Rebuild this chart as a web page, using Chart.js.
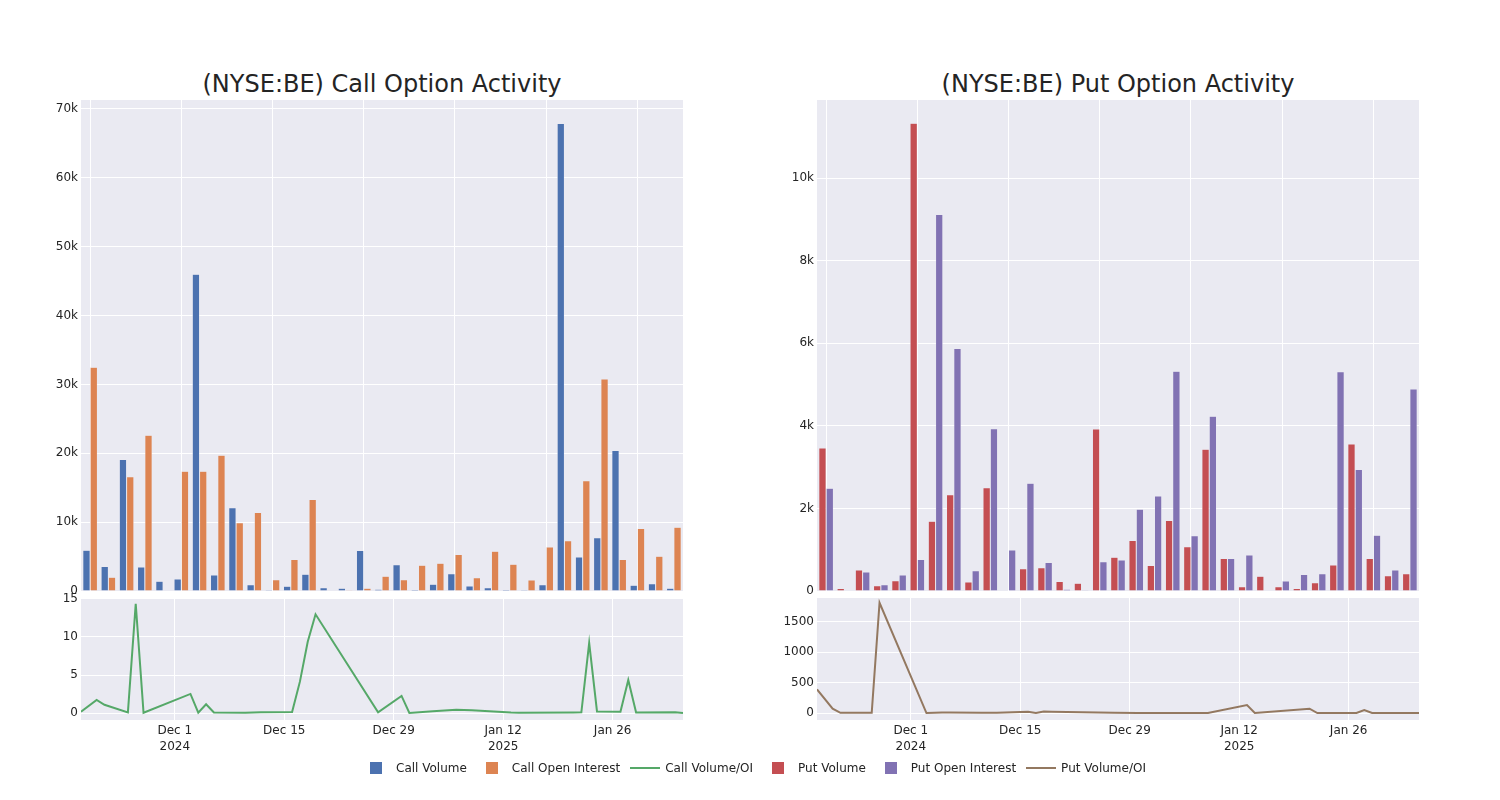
<!DOCTYPE html>
<html>
<head>
<meta charset="utf-8">
<script src="https://cdn.jsdelivr.net/npm/chart.js@4.4.1/dist/chart.umd.min.js"></script>
<style>
  body { margin: 0; background: #fff; font-family: "DejaVu Sans", sans-serif; }
  #wrap { position: relative; width: 1500px; height: 800px; overflow: hidden; }
  #wrap canvas { position: absolute; }
  .title { position: absolute; top: 68px; width: 602px; text-align: center; font-size: 24px; line-height: 32px; color: rgb(36,36,36); }
  #legend { position: absolute; left: 356px; top: 760px; height: 16px; display: flex; align-items: center; font-size: 12px; color: rgb(36,36,36); }
  .item { display: flex; align-items: center; margin-right: 5px; }
  .sym { position: relative; width: 40px; height: 16px; }
  .sq { position: absolute; left: 14px; top: 2px; width: 12px; height: 12px; }
  .ln { position: absolute; left: 5px; top: 7px; width: 30px; height: 2px; }
</style>
</head>
<body>
<div id="wrap">
  <div class="title" style="left:81px">(NYSE:BE) Call Option Activity</div>
  <div class="title" style="left:817px">(NYSE:BE) Put Option Activity</div>
  <canvas id="callBars" width="700" height="515" style="left:0;top:90px"></canvas>
  <canvas id="callRatio" width="700" height="180" style="left:0;top:588px"></canvas>
  <canvas id="putBars" width="700" height="515" style="left:736px;top:90px"></canvas>
  <canvas id="putRatio" width="700" height="180" style="left:736px;top:588px"></canvas>
  <div id="legend"></div>
</div>
<script>
// trading days shown in the charts
const dates = [
  '2024-11-19', '2024-11-21', '2024-11-22', '2024-11-25', '2024-11-26', '2024-11-27',
  '2024-12-03', '2024-12-04', '2024-12-05', '2024-12-06', '2024-12-10', '2024-12-12',
  '2024-12-16', '2024-12-17', '2024-12-18', '2024-12-19', '2024-12-27', '2024-12-30',
  '2024-12-31', '2025-01-03', '2025-01-06', '2025-01-08', '2025-01-13', '2025-01-14',
  '2025-01-21', '2025-01-22', '2025-01-23', '2025-01-24', '2025-01-27', '2025-01-28',
  '2025-01-29', '2025-02-03', '2025-02-04'
];

const callVolume = [5900, 3540, 19100, 3500, 1400, 1750, 46000, 2330, 12100, 920, 150, 680,
  2430, 490, 390, 5870, 240, 3830, 200, 970, 2520, 730, 490, 190,
  150, 920, 67900, 4950, 7720, 20400, 830, 1070, 390];
const callOpenInterest = [32500, 2000, 16600, 22600, 50, 17400, 17400, 19700, 9900, 11400, 1650, 4560,
  13300, 50, 20, 390, 2140, 1650, 3740, 4030, 5290, 1940, 5780, 3880,
  1600, 6400, 7280, 16000, 30800, 4560, 9080, 5050, 9270];
const callRatio = [0.18, 1.74, 1.09, 0.1, 14.35, 0.05, 2.52, 0.05, 1.17, 0.08, 0.06, 0.12,
  0.15, 4.13, 9.35, 12.96, 0.1, 2.26, 0.03, 0.24, 0.43, 0.37, 0.08, 0.05,
  0.09, 0.1, 9.2, 0.22, 0.17, 4.35, 0.08, 0.13, 0.02];

const putVolume = [3460, 60, 510, 130, 250, 11330, 1690, 2330, 220, 2500, 0, 540,
  560, 230, 190, 3920, 820, 1220, 620, 1710, 1070, 3430, 790, 100,
  360, 100, 60, 200, 630, 3560, 790, 370, 420];
const putOpenInterest = [2490, 0, 460, 150, 390, 760, 9120, 5870, 490, 3930, 990, 2610,
  690, 40, 20, 710, 750, 1980, 2300, 5320, 1340, 4230, 790, 870,
  0, 240, 400, 420, 5310, 2940, 1350, 510, 4890];
const putRatio = [390, 71, 3, 5, 3, 1817, 0, 3, 8, 10, 6, 5,
  20, 2, 25, 22, 5, 2, 2, 2, 2, 2, 130, 0,
  71, 0, 0, 0, 0, 50, 0, 2, 2];

// axis ticks
const callBarTicks = [0, 10000, 20000, 30000, 40000, 50000, 60000, 70000];
const putBarTicks = [0, 2000, 4000, 6000, 8000, 10000];
const callRatioTicks = [0, 5, 10, 15];
const putRatioTicks = [0, 500, 1000, 1500];
const dateTickDays = [0, 14, 28, 42, 56]; // days after Dec 1 2024
const dateTickLabels = [['Dec 1', '2024'], 'Dec 15', 'Dec 29', ['Jan 12', '2025'], 'Jan 26'];

const colors = {
  callVol: 'rgb(76,114,176)', callOI: 'rgb(221,132,82)', callRatio: 'rgb(85,168,104)',
  putVol: 'rgb(196,78,82)', putOI: 'rgb(129,114,179)', putRatio: 'rgb(147,120,96)'
};
const textColor = 'rgb(36,36,36)';
const plotColor = 'rgb(234,234,242)';

Chart.defaults.font.family = '"DejaVu Sans", sans-serif';
Chart.defaults.font.size = 12;
Chart.defaults.color = textColor;

const base = Date.UTC(2024, 11, 1);
function dayNum(s) {
  const p = s.split('-').map(Number);
  return (Date.UTC(p[0], p[1] - 1, p[2]) - base) / 86400000;
}
const days = dates.map(dayNum);

function kLabel(v) {
  return v === 0 ? '0' : (v / 1000) + 'k';
}

const plotBg = {
  id: 'plotBg',
  beforeDraw(chart) {
    const a = chart.chartArea;
    const ctx = chart.ctx;
    ctx.save();
    ctx.fillStyle = plotColor;
    ctx.fillRect(a.left, a.top, a.right - a.left, a.bottom - a.top);
    ctx.restore();
  }
};

function yAxis(min, max, ticks, cb) {
  return {
    min: min, max: max, bounds: 'data',
    afterBuildTicks: s => { s.ticks = ticks.map(v => ({ value: v })); },
    afterFit: s => { s.width = 81; s.paddingTop = 0; s.paddingBottom = 0; },
    ticks: { padding: 3, callback: cb },
    grid: { color: '#fff', lineWidth: 1, drawTicks: false },
    border: { display: false }
  };
}

function barChart(id, volume, oi, volColor, oiColor, yMax, yTicks) {
  new Chart(document.getElementById(id), {
    type: 'bar',
    data: {
      labels: dates,
      datasets: [
        { data: volume, backgroundColor: volColor, borderColor: plotColor, borderWidth: 0.5 },
        { data: oi, backgroundColor: oiColor, borderColor: plotColor, borderWidth: 0.5 }
      ]
    },
    options: {
      responsive: false,
      animation: false,
      layout: { padding: { top: 10, right: 17, bottom: 14, left: 0 } },
      plugins: { legend: { display: false }, tooltip: { enabled: false } },
      datasets: { bar: { categoryPercentage: 0.8, barPercentage: 1.0 } },
      scales: {
        x: {
          ticks: { display: false, autoSkip: false },
          grid: { offset: false, drawTicks: false, lineWidth: 1,
            color: c => (c.index % 5 === 0 ? '#fff' : 'rgba(0,0,0,0)') },
          border: { display: false },
          afterFit: s => { s.height = 0; s.paddingLeft = 0; s.paddingRight = 0; }
        },
        y: yAxis(0, yMax, yTicks, kLabel)
      }
    },
    plugins: [plotBg]
  });
}

function ratioChart(id, values, color, yMin, yMax, yTicks) {
  new Chart(document.getElementById(id), {
    type: 'line',
    data: {
      datasets: [{
        data: days.map((d, i) => ({ x: d, y: values[i] })),
        borderColor: color, borderWidth: 2, pointRadius: 0, tension: 0, fill: false
      }]
    },
    options: {
      responsive: false,
      animation: false,
      layout: { padding: { top: 10, right: 17, bottom: 8, left: 0 } },
      plugins: { legend: { display: false }, tooltip: { enabled: false } },
      scales: {
        x: {
          type: 'linear', min: days[0], max: days[days.length - 1], bounds: 'data',
          afterBuildTicks: s => { s.ticks = dateTickDays.map(v => ({ value: v })); },
          afterFit: s => { s.height = 40; s.paddingLeft = 0; s.paddingRight = 0; },
          ticks: { padding: 3, maxRotation: 0, font: { lineHeight: 1.35 },
            callback: v => dateTickLabels[dateTickDays.indexOf(v)] },
          grid: { color: '#fff', lineWidth: 1, drawTicks: false },
          border: { display: false }
        },
        y: yAxis(yMin, yMax, yTicks, v => String(v))
      }
    },
    plugins: [plotBg]
  });
}

barChart('callBars', callVolume, callOpenInterest, colors.callVol, colors.callOI, 71300, callBarTicks);
barChart('putBars', putVolume, putOpenInterest, colors.putVol, colors.putOI, 11890, putBarTicks);
ratioChart('callRatio', callRatio, colors.callRatio, -0.9, 15.1, callRatioTicks);
ratioChart('putRatio', putRatio, colors.putRatio, -115, 1895, putRatioTicks);

// shared legend
const legendLabels = ['Call Volume', 'Call Open Interest', 'Call Volume/OI', 'Put Volume', 'Put Open Interest', 'Put Volume/OI'];
const legendColors = [colors.callVol, colors.callOI, colors.callRatio, colors.putVol, colors.putOI, colors.putRatio];
const legendKinds = ['sq', 'sq', 'ln', 'sq', 'sq', 'ln'];

const legend = document.getElementById('legend');
legendLabels.forEach((label, i) => {
  const item = document.createElement('div');
  item.className = 'item';
  const sym = document.createElement('div');
  sym.className = 'sym';
  const mark = document.createElement('div');
  mark.className = legendKinds[i];
  mark.style.background = legendColors[i];
  sym.appendChild(mark);
  const text = document.createElement('span');
  text.textContent = label;
  item.appendChild(sym);
  item.appendChild(text);
  legend.appendChild(item);
});
</script>
</body>
</html>
